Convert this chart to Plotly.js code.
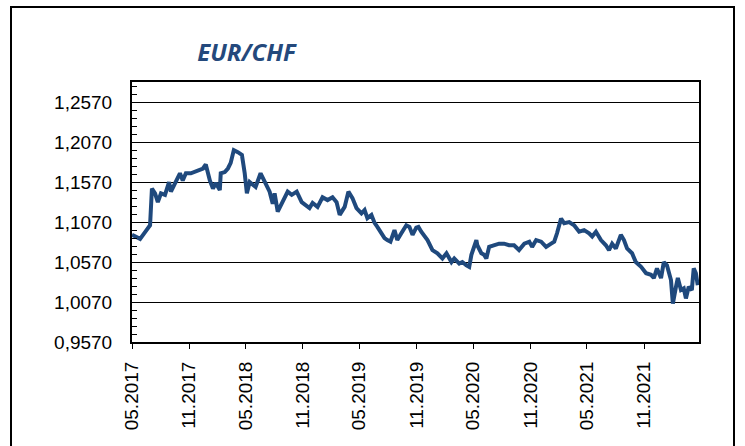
<!DOCTYPE html>
<html>
<head>
<meta charset="utf-8">
<script src="https://cdn.plot.ly/plotly-3.0.1.min.js"></script>
<style>
  html, body { margin: 0; padding: 0; background: #fff; overflow: hidden; }
  #chart { width: 745px; height: 446px; position: absolute; left: 0; top: 0; }
  #frame { position: absolute; left: 10px; top: 6px; width: 725px; height: 460px;
           border: 2px solid #000; box-sizing: border-box; pointer-events: none; }
</style>
</head>
<body>
<div id="chart"></div>
<div id="frame"></div>
<script>
const dates = [
  "2017-05-01","2017-05-27","2017-06-12","2017-06-28","2017-07-04","2017-07-14","2017-07-23","2017-08-02",
  "2017-08-15","2017-08-28","2017-09-03","2017-09-19","2017-10-02","2017-10-11","2017-10-21","2017-11-06",
  "2017-11-28","2017-12-15","2017-12-24","2018-01-06","2018-01-16","2018-01-25","2018-02-07","2018-02-10",
  "2018-02-23","2018-03-05","2018-03-14","2018-03-24","2018-04-06","2018-04-19","2018-04-28","2018-05-05",
  "2018-05-14","2018-05-24","2018-06-02","2018-06-18","2018-07-01","2018-07-17","2018-07-27","2018-08-02",
  "2018-08-12","2018-08-28","2018-09-13","2018-09-26","2018-10-12","2018-10-28","2018-11-13","2018-11-22",
  "2018-12-02","2018-12-18","2019-01-03","2019-01-19","2019-02-04","2019-02-17","2019-02-27","2019-03-15",
  "2019-03-27","2019-04-09","2019-04-22","2019-05-08","2019-05-18","2019-05-27","2019-06-09","2019-06-19",
  "2019-06-28","2019-07-11","2019-07-21","2019-07-30","2019-08-09","2019-08-22","2019-08-31","2019-09-13",
  "2019-09-29","2019-10-09","2019-10-19","2019-10-31","2019-11-07","2019-11-16","2019-11-26","2019-12-06",
  "2019-12-22","2020-01-07","2020-01-23","2020-02-05","2020-02-21","2020-03-01","2020-03-17","2020-03-27",
  "2020-04-09","2020-04-18","2020-04-25","2020-05-01","2020-05-11","2020-05-14","2020-05-27","2020-06-05",
  "2020-06-12","2020-06-21","2020-07-07","2020-07-23","2020-08-08","2020-08-24","2020-09-09","2020-09-25",
  "2020-10-12","2020-10-28","2020-11-06","2020-11-19","2020-12-05","2020-12-21","2021-01-06","2021-01-16",
  "2021-01-25","2021-02-07","2021-02-17","2021-03-05","2021-03-21","2021-04-06","2021-04-22","2021-05-08",
  "2021-05-18","2021-05-30","2021-06-15","2021-07-01","2021-07-11","2021-07-21","2021-08-02","2021-08-18",
  "2021-08-28","2021-09-07","2021-09-23","2021-10-05","2021-10-22","2021-11-07","2021-11-23","2021-12-02",
  "2021-12-12","2021-12-25","2022-01-03","2022-01-13","2022-01-26","2022-02-01","2022-02-11","2022-02-17",
  "2022-02-27","2022-03-08","2022-03-15","2022-03-24","2022-04-03","2022-04-09","2022-04-16","2022-04-22"
];
const eurchf = [
  1.091,1.086,1.0945,1.103,1.149,1.143,1.132,1.143,
  1.141,1.157,1.145,1.157,1.168,1.159,1.168,1.168,
  1.172,1.174,1.179,1.159,1.149,1.156,1.147,1.168,
  1.1695,1.174,1.181,1.197,1.1945,1.191,1.168,1.143,
  1.157,1.153,1.151,1.168,1.157,1.145,1.130,1.143,
  1.120,1.132,1.145,1.141,1.145,1.132,1.128,1.1245,
  1.131,1.126,1.138,1.1345,1.138,1.132,1.116,1.126,
  1.145,1.137,1.1245,1.118,1.122,1.112,1.116,1.106,
  1.101,1.093,1.087,1.0845,1.0825,1.097,1.0845,1.093,
  1.103,1.101,1.091,1.100,1.101,1.095,1.089,1.0845,
  1.072,1.068,1.0615,1.068,1.057,1.0615,1.055,1.057,
  1.053,1.051,1.066,1.072,1.0845,1.078,1.068,1.066,
  1.0615,1.076,1.078,1.080,1.080,1.078,1.078,1.072,
  1.080,1.0825,1.076,1.0845,1.0825,1.076,1.080,1.0825,
  1.093,1.1115,1.1055,1.107,1.103,1.095,1.097,1.093,
  1.089,1.095,1.0845,1.078,1.072,1.080,1.074,1.091,
  1.0845,1.074,1.068,1.057,1.051,1.043,1.041,1.037,
  1.049,1.037,1.057,1.053,1.0345,1.005,1.026,1.037,
  1.022,1.024,1.0115,1.026,1.022,1.049,1.043,1.028
];
const xTickVals = ["2017-05-01","2017-11-01","2018-05-01","2018-11-01","2019-05-01",
                   "2019-11-01","2020-05-01","2020-11-01","2021-05-01","2021-11-01"];
const xTickText = ["05.2017","11.2017","05.2018","11.2018","05.2019",
                   "11.2019","05.2020","11.2020","05.2021","11.2021"];
const yTickVals = [0.957, 1.007, 1.057, 1.107, 1.157, 1.207, 1.257];
const yTickText = ["0,9570","1,0070","1,0570","1,1070","1,1570","1,2070","1,2570"];

const trace = {
  x: dates, y: eurchf, type: 'scatter', mode: 'lines',
  line: { color: '#1F497D', width: 4 },
  hoverinfo: 'x+y'
};

const layout = {
  width: 745, height: 446,
  margin: { l: 132, r: 46, t: 82, b: 104 },
  paper_bgcolor: '#fff', plot_bgcolor: '#fff',
  showlegend: false,
  font: { family: 'Liberation Sans, Arial, sans-serif', color: '#000', size: 18 },
  title: {
    text: '<b><i>EUR/CHF</i></b>',
    font: { family: 'Open Sans, sans-serif', size: 24, color: '#24497C' },
    xref: 'container', yref: 'container',
    x: 246.5 / 745, y: 1 - 53 / 446, xanchor: 'center', yanchor: 'middle'
  },
  xaxis: {
    type: 'date',
    range: ['2017-05-01', '2022-04-26'],
    tickmode: 'array', tickvals: xTickVals, ticktext: xTickText,
    tickangle: -90,
    ticks: 'outside', ticklen: 5, tickwidth: 1, tickcolor: '#000',
    tickfont: { size: 19, family: 'Liberation Sans, Arial, sans-serif', color: '#000' },
    ticklabelstandoff: 5,
    showgrid: false, zeroline: false,
    showline: true, linecolor: '#000', linewidth: 2, mirror: true
  },
  yaxis: {
    range: [0.957, 1.2822],
    tickmode: 'array', tickvals: yTickVals, ticktext: yTickText,
    ticks: 'inside', ticklen: 5, tickwidth: 1, tickcolor: '#000',
    minor: { dtick: 0.01, tick0: 0.957, ticks: 'inside', ticklen: 5, tickwidth: 1, tickcolor: '#000', showgrid: false },
    tickfont: { size: 19, family: 'Liberation Sans, Arial, sans-serif', color: '#000' },
    ticklabelstandoff: 14,
    showgrid: true, gridcolor: '#000', gridwidth: 1,
    zeroline: false,
    showline: true, linecolor: '#000', linewidth: 2, mirror: true
  }
};

Plotly.newPlot('chart', [trace], layout, { displayModeBar: false, staticPlot: true });
</script>
</body>
</html>
